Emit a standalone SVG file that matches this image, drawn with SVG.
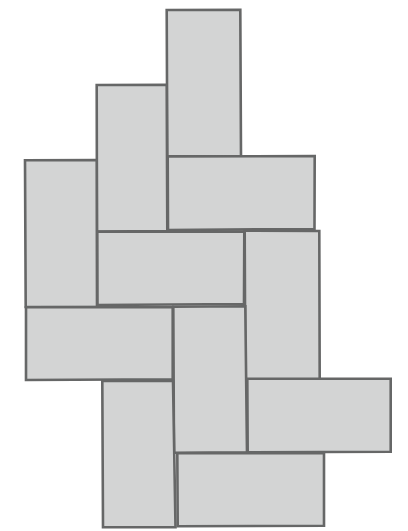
<svg xmlns="http://www.w3.org/2000/svg" width="408" height="531" viewBox="0 0 408 531">
<style>
.b{fill:#d3d4d4;stroke:#666767;stroke-width:2.6}
</style>
<rect width="408" height="531" fill="#fff"/>
<g id="r1"><polygon class="b" points="166.7,10 240.3,9.7 241,156 167.3,156.3"/></g>
<g id="r2"><polygon class="b" points="96.7,85 166.7,84.7 167.3,231 97,231.5"/></g>
<g id="r3"><polygon class="b" points="25,160.3 96.7,160 97,306.7 25.7,307"/></g>
<g id="r4"><polygon class="b" points="167.7,156.5 314.7,156 314.5,229 168,230"/></g>
<g id="r5"><polygon class="b" points="97.3,231.7 244.3,231.5 244,304 97.5,305"/></g>
<g id="r6"><polygon class="b" points="244.7,230.7 319.3,231 319.7,379 245.3,379.3"/></g>
<g id="r7"><polygon class="b" points="26,307.3 172.7,307 172.7,379.3 26,380"/></g>
<g id="r8"><polygon class="b" points="173.3,306.7 245.3,306.3 247,452.3 174,452.7"/></g>
<g id="r9"><polygon class="b" points="247.3,378.7 390.7,378.7 390.7,451.7 247.7,452.3"/></g>
<g id="r10"><polygon class="b" points="102.3,381 173,381 175.5,527.3 103,527.3"/></g>
<g id="r11"><polygon class="b" points="177.3,453.3 324,453 324,525.7 177.7,526.3"/></g>
</svg>
